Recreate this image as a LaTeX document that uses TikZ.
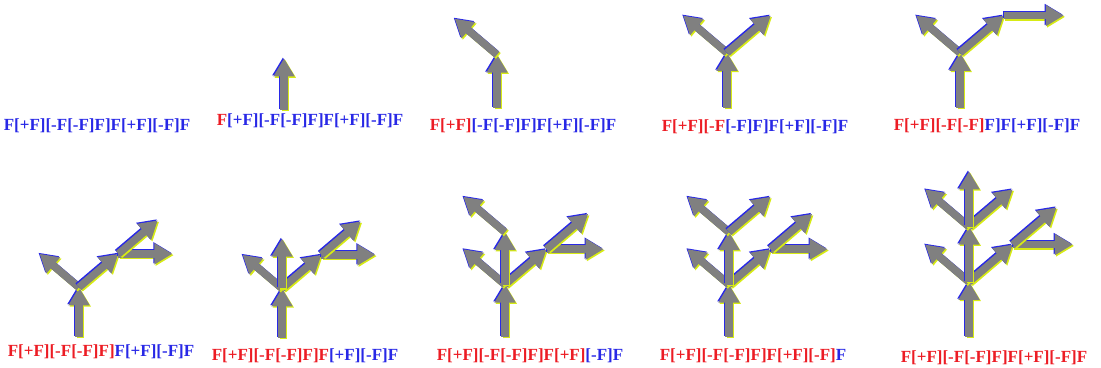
\documentclass[tikz,border=0pt]{standalone}
\usepackage{fontspec}
\setmainfont{Liberation Serif}
\usetikzlibrary{arrows.meta}
\definecolor{lsred}{RGB}{236,28,36}
\definecolor{lsblue}{RGB}{40,40,230}
\definecolor{lsgrey}{RGB}{128,128,128}
\definecolor{lsyellow}{RGB}{215,235,20}

% one turtle step, drawn with its two coloured edges
\newcommand\lsarrow[2]{%
  \draw[turtle,draw=lsyellow,transform canvas={shift={(1.3pt,-1.3pt)}}] (#1) -- (#2);
  \draw[turtle,draw=lsblue,transform canvas={shift={(-1.1pt,1.1pt)}}] (#1) -- (#2);
  \draw[turtle,draw=lsgrey] (#1) -- (#2);}

% name, x, y, step, number of steps drawn
\newcommand\lstree[5]{%
  \path[shift={(#2pt,#3pt)},x=#4pt,y=#4pt] (0,0) coordinate (#1b)
    ++(0,0.92) coordinate (#1j1) ++(-0.73,0.62) coordinate (#1l1)
    (#1j1) ++(0.73,0.62) coordinate (#1r1) ++(1,0) coordinate (#1h1)
    (#1r1) ++(0.73,0.62) coordinate (#1d2)
    (#1j1) ++(0,0.92) coordinate (#1j2) ++(-0.73,0.62) coordinate (#1l2)
    (#1j2) ++(0.73,0.62) coordinate (#1r2)
    (#1j2) ++(0,0.92) coordinate (#1j3);
  \foreach \from/\to [count=\i] in {b/j1,j1/l1,j1/r1,r1/h1,r1/d2,j1/j2,j2/l2,j2/r2,j2/j3}
    {\ifnum\i>#5\relax\else\lsarrow{#1\from}{#1\to}\fi}}

\newcommand\lsword[2]{\textcolor{lsred}{#1}\textcolor{lsblue}{#2}}

\begin{document}
\begin{tikzpicture}[x=1pt,y=1pt, turtle/.style={line width=7.5pt,-{Triangle[width=20pt,length=18pt]}}, word/.style={anchor=base,font=\fontsize{17}{20}\selectfont\bfseries}]
\useasboundingbox (0,0) rectangle (1101,367);
% first row
\lstree{p2}{284}{257}{56}{1}
\lstree{p3}{497}{259}{58}{2}
\lstree{p4}{727}{259}{60}{3}
\lstree{p5}{960}{259}{60}{4}
\node[word] (w1) at (97,236) {\lsword{}{F[+F][-F[-F]F]F[+F][-F]F}};
\node[word] (w2) at (310,241) {\lsword{F}{[+F][-F[-F]F]F[+F][-F]F}};
\node[word] (w3) at (523,236) {\lsword{F[+F]}{[-F[-F]F]F[+F][-F]F}};
\node[word] (w4) at (755,235) {\lsword{F[+F][-F}{[-F]F]F[+F][-F]F}};
\node[word] (w5) at (987,236) {\lsword{F[+F][-F[-F]}{F]F[+F][-F]F}};
% second row
\lstree{p6}{79}{30}{54}{5}
\lstree{p7}{282}{29}{54}{6}
\lstree{p8}{505}{30}{57}{7}
\lstree{p9}{729}{30}{57}{8}
\lstree{p10}{969}{30}{60}{9}
\node[word] (w6) at (101,10) {\lsword{F[+F][-F[-F]F]}{F[+F][-F]F}};
\node[word] (w7) at (305,6) {\lsword{F[+F][-F[-F]F]F}{[+F][-F]F}};
\node[word] (w8) at (530,6) {\lsword{F[+F][-F[-F]F]F[+F]}{[-F]F}};
\node[word] (w9) at (753,6) {\lsword{F[+F][-F[-F]F]F[+F][-F]}{F}};
\node[word] (w10) at (994,5) {\lsword{F[+F][-F[-F]F]F[+F][-F]F}{}};
\end{tikzpicture}
\end{document}
